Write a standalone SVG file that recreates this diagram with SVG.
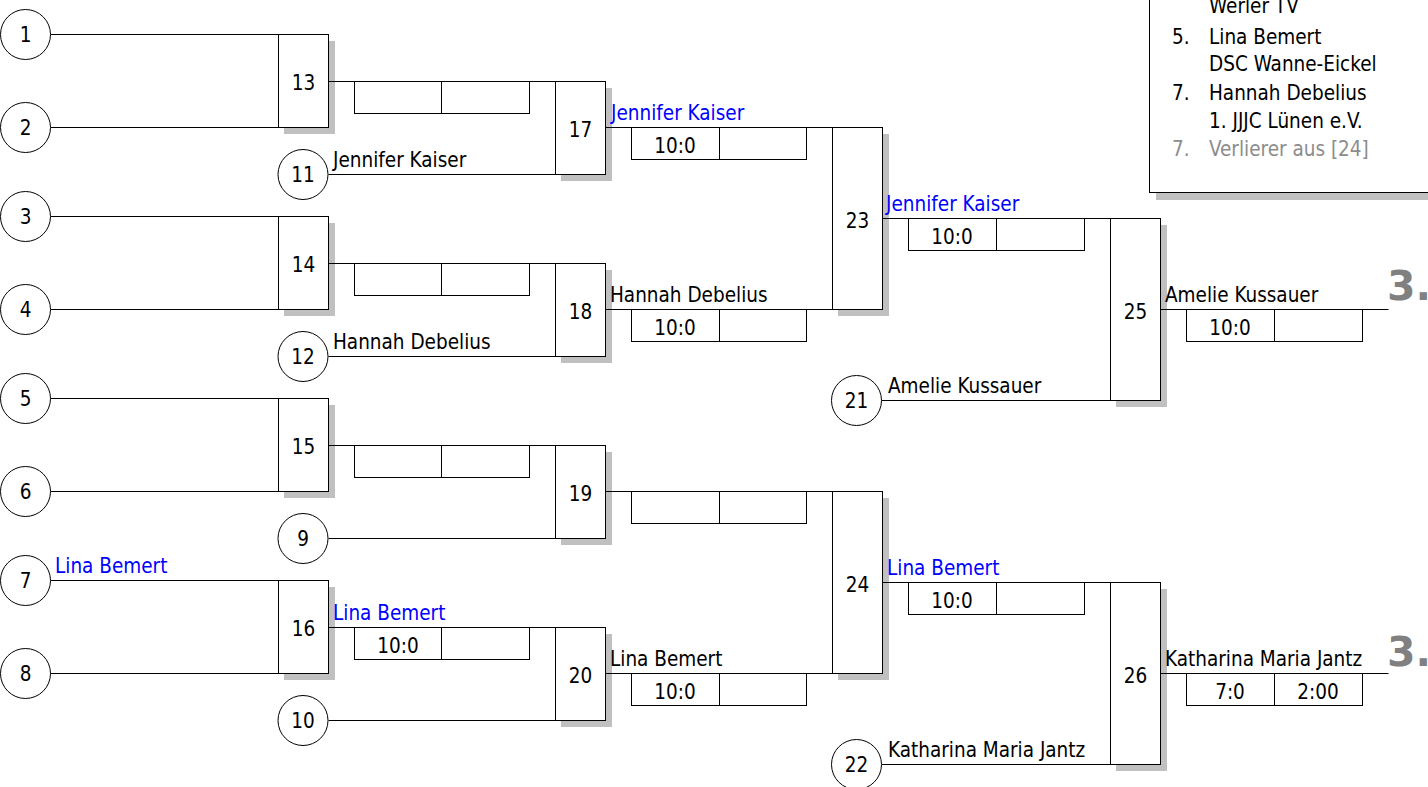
<svg xmlns="http://www.w3.org/2000/svg" width="1428" height="787" viewBox="0 0 1428 787">
<style>
text{font-family:"DejaVu Sans Condensed","DejaVu Sans","Liberation Sans",sans-serif;font-stretch:condensed;font-size:20.5px;fill:#000}
.c{text-anchor:middle}
.blue{fill:#0000ff}
.gray{fill:#8c8c8c}
.big{font-family:"DejaVu Sans","Liberation Sans",sans-serif;font-stretch:normal;font-size:41px;font-weight:bold;fill:#808080}
.ln{stroke:#000;stroke-width:1;fill:none}
.box{fill:#fff;stroke:#000;stroke-width:1}
.sh{fill:#c0c0c0;stroke:none}
.circ{fill:#fff;stroke:#000;stroke-width:1}
</style>
<rect width="1428" height="787" fill="#fff"/>

<!-- legend -->
<g id="legend">
<rect class="sh" x="1156" y="0" width="300" height="200"/>
<rect class="box" x="1149.5" y="-10.5" width="300" height="203"/>
<text x="1209" y="13">Werler TV</text>
<text x="1172" y="44">5.</text><text x="1209" y="44">Lina Bemert</text>
<text x="1209" y="71">DSC Wanne-Eickel</text>
<text x="1172" y="100">7.</text><text x="1209" y="100">Hannah Debelius</text>
<text x="1209" y="128">1. JJJC Lünen e.V.</text>
<text x="1172" y="156" class="gray">7.</text><text x="1209" y="156" class="gray">Verlierer aus [24]</text>
</g>

<!-- shadows -->
<g id="shadows">
<rect class="sh" x="284" y="41" width="51" height="93"/>
<rect class="sh" x="284" y="223" width="51" height="93"/>
<rect class="sh" x="284" y="405" width="51" height="93"/>
<rect class="sh" x="284" y="587" width="51" height="93"/>
<rect class="sh" x="561" y="88" width="51" height="93"/>
<rect class="sh" x="561" y="270" width="51" height="93"/>
<rect class="sh" x="561" y="452" width="51" height="93"/>
<rect class="sh" x="561" y="634" width="51" height="93"/>
<rect class="sh" x="838" y="134" width="51" height="182"/>
<rect class="sh" x="838" y="498" width="51" height="182"/>
<rect class="sh" x="1116" y="225" width="51" height="182"/>
<rect class="sh" x="1116" y="589" width="51" height="182"/>
</g>

<!-- connectors -->
<g id="connectors" class="ln">
<path d="M50.5 34.5H278.5M50.5 127.5H278.5M50.5 216.5H278.5M50.5 309.5H278.5M50.5 398.5H278.5M50.5 491.5H278.5M50.5 580.5H278.5M50.5 673.5H278.5"/>
<path d="M328.5 81.5H555.5M328.5 263.5H555.5M328.5 445.5H555.5M328.5 627.5H555.5"/>
<path d="M328.5 174.5H555.5M328.5 356.5H555.5M328.5 538.5H555.5M328.5 720.5H555.5"/>
<path d="M605.5 127.5H832.5M605.5 309.5H832.5M605.5 491.5H832.5M605.5 673.5H832.5"/>
<path d="M882.5 218.5H1110.5M882.5 582.5H1110.5M881.5 400.5H1110.5M881.5 764.5H1110.5"/>
<path d="M1160.5 309.5H1388.5M1160.5 673.5H1388.5"/>
</g>

<!-- entrant circles -->
<g id="n1"><circle class="circ" cx="25.5" cy="34.5" r="25"/><text class="c" x="25.5" y="42">1</text></g>
<g id="n2"><circle class="circ" cx="25.5" cy="127.5" r="25"/><text class="c" x="25.5" y="135">2</text></g>
<g id="n3"><circle class="circ" cx="25.5" cy="216.5" r="25"/><text class="c" x="25.5" y="224">3</text></g>
<g id="n4"><circle class="circ" cx="25.5" cy="309.5" r="25"/><text class="c" x="25.5" y="317">4</text></g>
<g id="n5"><circle class="circ" cx="25.5" cy="398.5" r="25"/><text class="c" x="25.5" y="406">5</text></g>
<g id="n6"><circle class="circ" cx="25.5" cy="491.5" r="25"/><text class="c" x="25.5" y="499">6</text></g>
<g id="n7"><circle class="circ" cx="25.5" cy="580.5" r="25"/><text class="c" x="25.5" y="588">7</text><text class="blue" x="55" y="573">Lina Bemert</text></g>
<g id="n8"><circle class="circ" cx="25.5" cy="673.5" r="25"/><text class="c" x="25.5" y="681">8</text></g>
<g id="n11"><circle class="circ" cx="303" cy="174.5" r="25"/><text class="c" x="303" y="181.5">11</text><text x="333" y="167">Jennifer Kaiser</text></g>
<g id="n12"><circle class="circ" cx="303" cy="356.5" r="25"/><text class="c" x="303" y="363.5">12</text><text x="333" y="349">Hannah Debelius</text></g>
<g id="n9"><circle class="circ" cx="303" cy="538.5" r="25"/><text class="c" x="303" y="545.5">9</text></g>
<g id="n10"><circle class="circ" cx="303" cy="720.5" r="25"/><text class="c" x="303" y="727.5">10</text></g>
<g id="n21"><circle class="circ" cx="856.5" cy="400.5" r="25"/><text class="c" x="856.5" y="407.5">21</text><text x="888" y="393">Amelie Kussauer</text></g>
<g id="n22"><circle class="circ" cx="856.5" cy="764.5" r="25"/><text class="c" x="856.5" y="771.5">22</text><text x="888" y="757">Katharina Maria Jantz</text></g>

<!-- round 1 -->
<g id="m13"><rect class="box" x="278.5" y="34.5" width="50" height="93"/><text class="c" x="303.5" y="90">13</text>
<rect class="box" x="354.5" y="81.5" width="175" height="32"/><path class="ln" d="M441.5 81.5V113.5"/></g>
<g id="m14"><rect class="box" x="278.5" y="216.5" width="50" height="93"/><text class="c" x="303.5" y="272">14</text>
<rect class="box" x="354.5" y="263.5" width="175" height="32"/><path class="ln" d="M441.5 263.5V295.5"/></g>
<g id="m15"><rect class="box" x="278.5" y="398.5" width="50" height="93"/><text class="c" x="303.5" y="454">15</text>
<rect class="box" x="354.5" y="445.5" width="175" height="32"/><path class="ln" d="M441.5 445.5V477.5"/></g>
<g id="m16"><rect class="box" x="278.5" y="580.5" width="50" height="93"/><text class="c" x="303.5" y="636">16</text>
<rect class="box" x="354.5" y="627.5" width="175" height="32"/><path class="ln" d="M441.5 627.5V659.5"/>
<text class="blue" x="333" y="620">Lina Bemert</text><text class="c" x="398" y="652.5">10:0</text></g>

<!-- round 2 -->
<g id="m17"><rect class="box" x="555.5" y="81.5" width="50" height="93"/><text class="c" x="580.5" y="137">17</text>
<rect class="box" x="631.5" y="127.5" width="175" height="32"/><path class="ln" d="M719.5 127.5V159.5"/>
<text class="blue" x="611" y="120">Jennifer Kaiser</text><text class="c" x="675" y="152.5">10:0</text></g>
<g id="m18"><rect class="box" x="555.5" y="263.5" width="50" height="93"/><text class="c" x="580.5" y="319">18</text>
<rect class="box" x="631.5" y="309.5" width="175" height="32"/><path class="ln" d="M719.5 309.5V341.5"/>
<text x="610" y="302">Hannah Debelius</text><text class="c" x="675" y="334.5">10:0</text></g>
<g id="m19"><rect class="box" x="555.5" y="445.5" width="50" height="93"/><text class="c" x="580.5" y="501">19</text>
<rect class="box" x="631.5" y="491.5" width="175" height="32"/><path class="ln" d="M719.5 491.5V523.5"/></g>
<g id="m20"><rect class="box" x="555.5" y="627.5" width="50" height="93"/><text class="c" x="580.5" y="683">20</text>
<rect class="box" x="631.5" y="673.5" width="175" height="32"/><path class="ln" d="M719.5 673.5V705.5"/>
<text x="610" y="666">Lina Bemert</text><text class="c" x="675" y="698.5">10:0</text></g>

<!-- round 3 -->
<g id="m23"><rect class="box" x="832.5" y="127.5" width="50" height="182"/><text class="c" x="857.5" y="227.5">23</text>
<rect class="box" x="908.5" y="218.5" width="176" height="32"/><path class="ln" d="M996.5 218.5V250.5"/>
<text class="blue" x="886" y="211">Jennifer Kaiser</text><text class="c" x="952" y="243.5">10:0</text></g>
<g id="m24"><rect class="box" x="832.5" y="491.5" width="50" height="182"/><text class="c" x="857.5" y="591.5">24</text>
<rect class="box" x="908.5" y="582.5" width="176" height="32"/><path class="ln" d="M996.5 582.5V614.5"/>
<text class="blue" x="887" y="575">Lina Bemert</text><text class="c" x="952" y="607.5">10:0</text></g>

<!-- round 4 -->
<g id="m25"><rect class="box" x="1110.5" y="218.5" width="50" height="182"/><text class="c" x="1135.5" y="319">25</text>
<rect class="box" x="1186.5" y="309.5" width="176" height="32"/><path class="ln" d="M1274.5 309.5V341.5"/>
<text x="1165" y="302">Amelie Kussauer</text><text class="c" x="1230" y="334.5">10:0</text>
<text class="big" x="1387" y="300">3.</text></g>
<g id="m26"><rect class="box" x="1110.5" y="582.5" width="50" height="182"/><text class="c" x="1135.5" y="683">26</text>
<rect class="box" x="1186.5" y="673.5" width="176" height="32"/><path class="ln" d="M1274.5 673.5V705.5"/>
<text x="1165" y="666">Katharina Maria Jantz</text><text class="c" x="1230" y="698.5">7:0</text><text class="c" x="1318" y="698.5">2:00</text>
<text class="big" x="1387" y="666">3.</text></g>
</svg>
